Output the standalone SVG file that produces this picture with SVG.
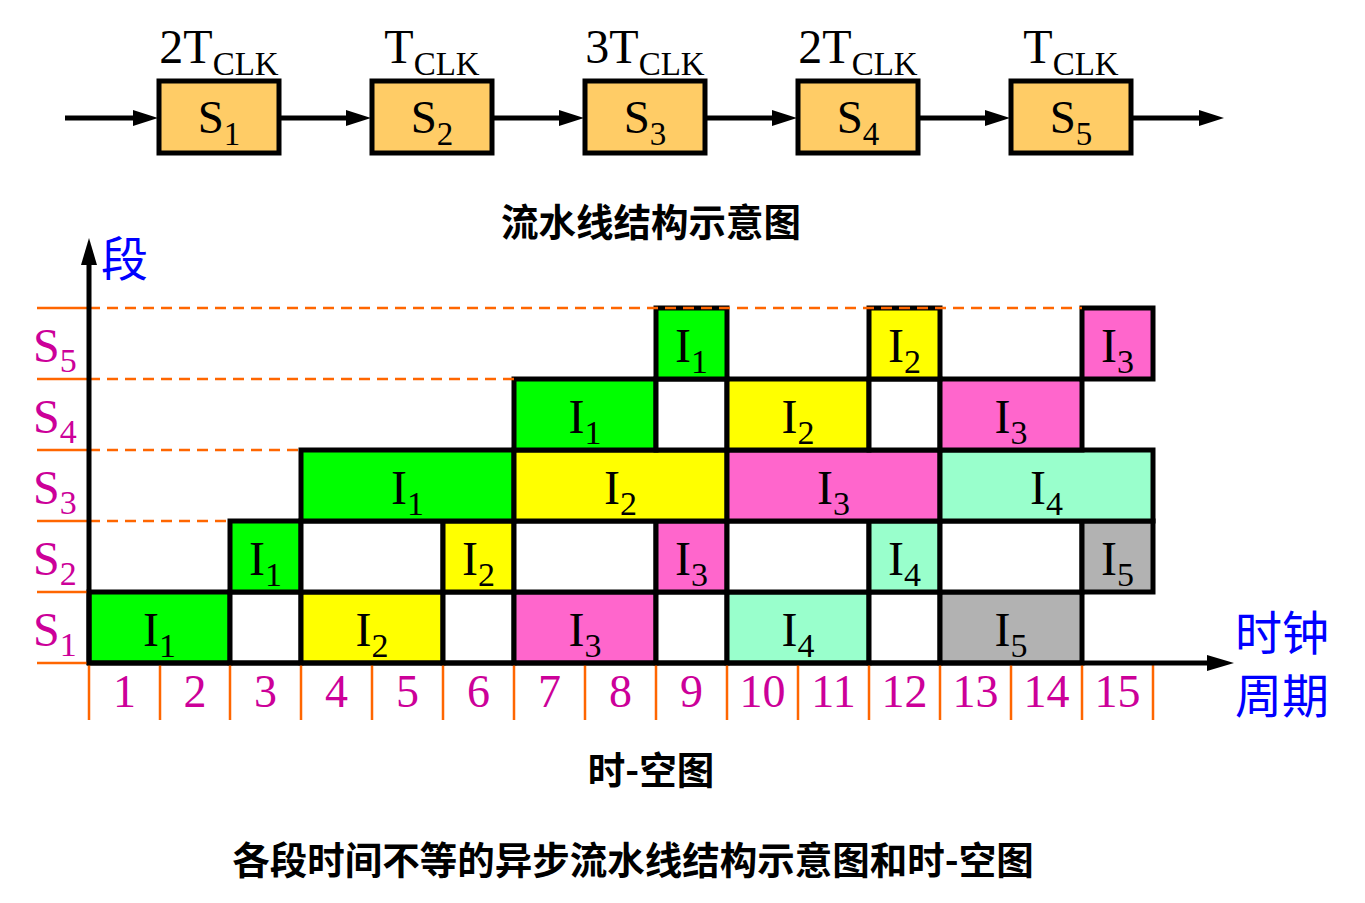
<svg xmlns="http://www.w3.org/2000/svg" width="1365" height="903" viewBox="0 0 1365 903">
<style>
.stage{fill:#FFCC66;stroke:#000;stroke-width:5}
.cell{stroke:#000;stroke-width:5}
.g{fill:#00FF00}.y{fill:#FFFF00}.p{fill:#FF66CC}.m{fill:#99FFCC}.gr{fill:#B2B2B2}.w{fill:#FFFFFF}
.t{font-family:"Liberation Serif","Times New Roman",serif;fill:#000;text-anchor:middle}
.lbl{font-size:48px}
.sub{font-size:34px}
.mag{fill:#CC0099}
.num{font-family:"Liberation Serif","Times New Roman",serif;fill:#CC0099;font-size:46px;text-anchor:middle}
.cjk{font-family:"Noto Sans CJK SC",sans-serif}
.blue{fill:#0000FF;font-size:47px}
.title{fill:#000;font-size:37.5px;font-weight:bold;text-anchor:middle}
.dash{stroke:#FF6600;stroke-width:2.5;stroke-dasharray:11 7;fill:none}
.tick{stroke:#FF6600;stroke-width:2.5;fill:none}
.conn{stroke:#000;stroke-width:5;fill:none}
</style>
<defs>
<marker id="ah" markerUnits="userSpaceOnUse" markerWidth="26" markerHeight="16" refX="14" refY="8" orient="auto">
<path d="M0,0 L25,8 L0,16 z" fill="#000"/>
</marker>
</defs>
<rect width="1365" height="903" fill="#fff"/>

<g id="connectors">
<line class="conn" x1="65" y1="118" x2="147" y2="118" marker-end="url(#ah)"/>
<line class="conn" x1="281" y1="118" x2="360" y2="118" marker-end="url(#ah)"/>
<line class="conn" x1="494" y1="118" x2="573" y2="118" marker-end="url(#ah)"/>
<line class="conn" x1="707" y1="118" x2="786" y2="118" marker-end="url(#ah)"/>
<line class="conn" x1="920" y1="118" x2="999" y2="118" marker-end="url(#ah)"/>
<line class="conn" x1="1133" y1="118" x2="1213" y2="118" marker-end="url(#ah)"/>
</g>

<g id="stage-1">
<text class="t" x="219" y="63"><tspan font-size="48">2T</tspan><tspan font-size="33" dy="12">CLK</tspan></text>
<rect class="stage" x="159" y="81" width="120" height="72"/>
<text class="t" x="219" y="133"><tspan font-size="47">S</tspan><tspan font-size="33" dy="12">1</tspan></text>
</g>
<g id="stage-2">
<text class="t" x="432" y="63"><tspan font-size="48">T</tspan><tspan font-size="33" dy="12">CLK</tspan></text>
<rect class="stage" x="372" y="81" width="120" height="72"/>
<text class="t" x="432" y="133"><tspan font-size="47">S</tspan><tspan font-size="33" dy="12">2</tspan></text>
</g>
<g id="stage-3">
<text class="t" x="645" y="63"><tspan font-size="48">3T</tspan><tspan font-size="33" dy="12">CLK</tspan></text>
<rect class="stage" x="585" y="81" width="120" height="72"/>
<text class="t" x="645" y="133"><tspan font-size="47">S</tspan><tspan font-size="33" dy="12">3</tspan></text>
</g>
<g id="stage-4">
<text class="t" x="858" y="63"><tspan font-size="48">2T</tspan><tspan font-size="33" dy="12">CLK</tspan></text>
<rect class="stage" x="798" y="81" width="120" height="72"/>
<text class="t" x="858" y="133"><tspan font-size="47">S</tspan><tspan font-size="33" dy="12">4</tspan></text>
</g>
<g id="stage-5">
<text class="t" x="1071" y="63"><tspan font-size="48">T</tspan><tspan font-size="33" dy="12">CLK</tspan></text>
<rect class="stage" x="1011" y="81" width="120" height="72"/>
<text class="t" x="1071" y="133"><tspan font-size="47">S</tspan><tspan font-size="33" dy="12">5</tspan></text>
</g>

<text class="cjk title" x="651" y="236">流水线结构示意图</text>

<g id="cells">
<!-- S1 row -->
<rect class="cell g" x="89" y="592" width="141" height="71"/>
<rect class="cell w" x="230" y="592" width="71" height="71"/>
<rect class="cell y" x="301" y="592" width="142" height="71"/>
<rect class="cell w" x="443" y="592" width="71" height="71"/>
<rect class="cell p" x="514" y="592" width="142" height="71"/>
<rect class="cell w" x="656" y="592" width="71" height="71"/>
<rect class="cell m" x="727" y="592" width="142" height="71"/>
<rect class="cell w" x="869" y="592" width="71" height="71"/>
<rect class="cell gr" x="940" y="592" width="142" height="71"/>
<!-- S2 row -->
<rect class="cell g" x="230" y="521" width="71" height="71"/>
<rect class="cell w" x="301" y="521" width="142" height="71"/>
<rect class="cell y" x="443" y="521" width="71" height="71"/>
<rect class="cell w" x="514" y="521" width="142" height="71"/>
<rect class="cell p" x="656" y="521" width="71" height="71"/>
<rect class="cell w" x="727" y="521" width="142" height="71"/>
<rect class="cell m" x="869" y="521" width="71" height="71"/>
<rect class="cell w" x="940" y="521" width="142" height="71"/>
<rect class="cell gr" x="1082" y="521" width="71" height="71"/>
<!-- S3 row -->
<rect class="cell g" x="301" y="450" width="213" height="71"/>
<rect class="cell y" x="514" y="450" width="213" height="71"/>
<rect class="cell p" x="727" y="450" width="213" height="71"/>
<rect class="cell m" x="940" y="450" width="213" height="71"/>
<!-- S4 row -->
<rect class="cell g" x="514" y="379" width="142" height="71"/>
<rect class="cell w" x="656" y="379" width="71" height="71"/>
<rect class="cell y" x="727" y="379" width="142" height="71"/>
<rect class="cell w" x="869" y="379" width="71" height="71"/>
<rect class="cell p" x="940" y="379" width="142" height="71"/>
<!-- S5 row -->
<rect class="cell g" x="656" y="308" width="71" height="71"/>
<rect class="cell y" x="869" y="308" width="71" height="71"/>
<rect class="cell p" x="1082" y="308" width="71" height="71"/>
</g>

<g id="cell-labels" class="t">
<text x="159.5" y="646"><tspan class="lbl">I</tspan><tspan class="sub" dy="11">1</tspan></text>
<text x="372" y="646"><tspan class="lbl">I</tspan><tspan class="sub" dy="11">2</tspan></text>
<text x="585" y="646"><tspan class="lbl">I</tspan><tspan class="sub" dy="11">3</tspan></text>
<text x="798" y="646"><tspan class="lbl">I</tspan><tspan class="sub" dy="11">4</tspan></text>
<text x="1011" y="646"><tspan class="lbl">I</tspan><tspan class="sub" dy="11">5</tspan></text>

<text x="265.5" y="575"><tspan class="lbl">I</tspan><tspan class="sub" dy="11">1</tspan></text>
<text x="478.5" y="575"><tspan class="lbl">I</tspan><tspan class="sub" dy="11">2</tspan></text>
<text x="691.5" y="575"><tspan class="lbl">I</tspan><tspan class="sub" dy="11">3</tspan></text>
<text x="904.5" y="575"><tspan class="lbl">I</tspan><tspan class="sub" dy="11">4</tspan></text>
<text x="1117.5" y="575"><tspan class="lbl">I</tspan><tspan class="sub" dy="11">5</tspan></text>

<text x="407.5" y="504"><tspan class="lbl">I</tspan><tspan class="sub" dy="11">1</tspan></text>
<text x="620.5" y="504"><tspan class="lbl">I</tspan><tspan class="sub" dy="11">2</tspan></text>
<text x="833.5" y="504"><tspan class="lbl">I</tspan><tspan class="sub" dy="11">3</tspan></text>
<text x="1046.5" y="504"><tspan class="lbl">I</tspan><tspan class="sub" dy="11">4</tspan></text>

<text x="585" y="433"><tspan class="lbl">I</tspan><tspan class="sub" dy="11">1</tspan></text>
<text x="798" y="433"><tspan class="lbl">I</tspan><tspan class="sub" dy="11">2</tspan></text>
<text x="1011" y="433"><tspan class="lbl">I</tspan><tspan class="sub" dy="11">3</tspan></text>

<text x="691.5" y="362"><tspan class="lbl">I</tspan><tspan class="sub" dy="11">1</tspan></text>
<text x="904.5" y="362"><tspan class="lbl">I</tspan><tspan class="sub" dy="11">2</tspan></text>
<text x="1117.5" y="362"><tspan class="lbl">I</tspan><tspan class="sub" dy="11">3</tspan></text>
</g>

<g id="grid-lines">
<line class="dash" x1="89" y1="308" x2="1082" y2="308"/>
<line class="dash" x1="89" y1="379" x2="514" y2="379"/>
<line class="dash" x1="89" y1="450" x2="301" y2="450"/>
<line class="dash" x1="89" y1="521" x2="230" y2="521"/>
<path class="tick" d="M37,308H89M37,379H89M37,450H89M37,521H89M37,592H89M37,663H89"/>
<path class="tick" d="M89,663V720M160,663V720M230,663V720M301,663V720M372,663V720M443,663V720M514,663V720M585,663V720M656,663V720M727,663V720M798,663V720M869,663V720M940,663V720M1011,663V720M1082,663V720M1153,663V720"/>
</g>

<g id="axes">
<line class="conn" x1="89" y1="665" x2="89" y2="260"/>
<polygon points="89,238 81,265 97,265" fill="#000"/>
<line class="conn" x1="87" y1="663" x2="1210" y2="663"/>
<polygon points="1234,663 1207,655 1207,671" fill="#000"/>
</g>

<g id="stage-labels" class="t mag">
<text x="33" y="362" text-anchor="start"><tspan class="lbl">S</tspan><tspan class="sub" dy="10">5</tspan></text>
<text x="33" y="433" text-anchor="start"><tspan class="lbl">S</tspan><tspan class="sub" dy="10">4</tspan></text>
<text x="33" y="504" text-anchor="start"><tspan class="lbl">S</tspan><tspan class="sub" dy="10">3</tspan></text>
<text x="33" y="575" text-anchor="start"><tspan class="lbl">S</tspan><tspan class="sub" dy="10">2</tspan></text>
<text x="33" y="646" text-anchor="start"><tspan class="lbl">S</tspan><tspan class="sub" dy="10">1</tspan></text>
</g>

<g id="cycle-numbers" class="num">
<text x="124.5" y="707">1</text>
<text x="195" y="707">2</text>
<text x="265.5" y="707">3</text>
<text x="336.5" y="707">4</text>
<text x="407.5" y="707">5</text>
<text x="478.5" y="707">6</text>
<text x="549.5" y="707">7</text>
<text x="620.5" y="707">8</text>
<text x="691.5" y="707">9</text>
<text x="762.5" y="707">10</text>
<text x="833.5" y="707">11</text>
<text x="904.5" y="707">12</text>
<text x="975.5" y="707">13</text>
<text x="1046.5" y="707">14</text>
<text x="1117.5" y="707">15</text>
</g>

<g id="axis-labels" class="cjk">
<text class="blue" x="101" y="276">段</text>
<text class="blue" x="1235" y="650">时钟</text>
<text class="blue" x="1235" y="713">周期</text>
</g>

<text class="cjk title" x="651" y="784">时-空图</text>
<text class="cjk title" x="633" y="874">各段时间不等的异步流水线结构示意图和时-空图</text>
</svg>
